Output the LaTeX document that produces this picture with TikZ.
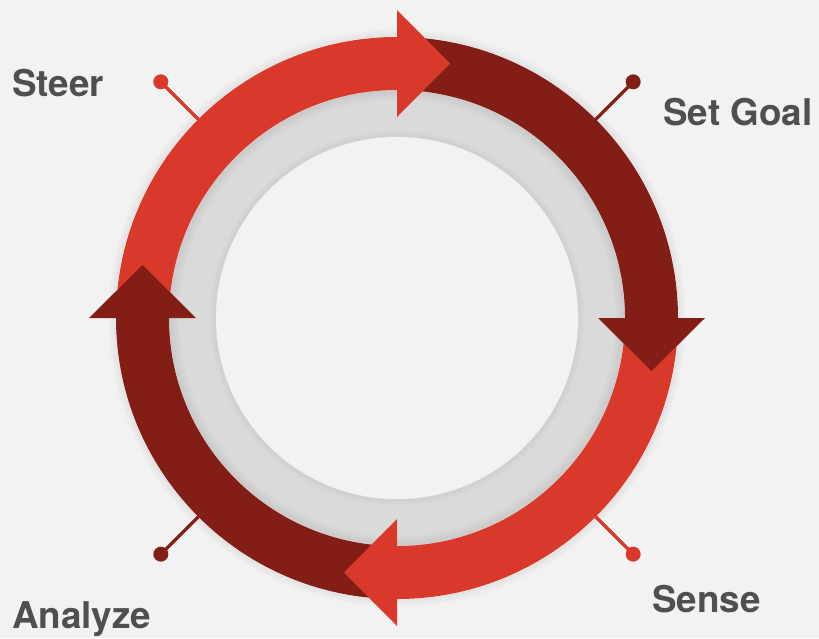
\documentclass[tikz,border=0pt]{standalone}
\usepackage{fontspec}
\setmainfont{TeX Gyre Heros}
\usetikzlibrary{calc}
\definecolor{bg}{HTML}{F2F2F2}
\definecolor{ringgray}{HTML}{DADADA}
\definecolor{brightred}{HTML}{D9392B}
\definecolor{darkred}{HTML}{831E17}
\definecolor{labelgray}{HTML}{4F4F4F}
\begin{document}
\begin{tikzpicture}[x=1pt,y=1pt,
  lbl/.style={font=\bfseries\fontsize{36.8}{40}\selectfont, text=labelgray, inner sep=0pt, anchor=base west},
  pinline/.style={line width=3.2pt},
  band/.style={line width=53pt}]
\fill[bg] (0,0) rectangle (819,-638);
\useasboundingbox (0,0) rectangle (819,-638);
\coordinate (C) at (397,-318);
% gray ring
\fill[ringgray] (C) circle[radius=240];
% outer soft shadow of ring
\foreach \i in {1,...,8}{
  \pgfmathsetmacro{\op}{0.06*(1-\i/9)}
  \draw[black, opacity=\op, line width=1pt] (C) circle[radius=281+\i];
}
% pins
\foreach \n/\a/\c in {Steer/135/brightred, Goal/45/darkred, Sense/-45/brightred, Analyze/-135/darkred}{
  \coordinate (p\n) at ($(C)+(\a:334)$);
  \coordinate (e\n) at ($(C)+(\a:272)$);
  \draw[pinline, \c] (p\n) -- (e\n);
  \fill[\c] (p\n) circle[radius=7.5];
}
% ring bodies (each starts and ends hidden under an arrow head)
\draw[band, brightred] ($(C)+(178:254.5)$) arc[start angle=178, end angle=88, radius=254.5];
\draw[band, darkred]   ($(C)+(88:254.5)$)  arc[start angle=88, end angle=-2, radius=254.5];
\draw[band, brightred] ($(C)+(-2:254.5)$)  arc[start angle=-2, end angle=-92, radius=254.5];
\draw[band, darkred]   ($(C)+(-92:254.5)$) arc[start angle=-92, end angle=-182, radius=254.5];
% inner shadow of ring onto gray
\foreach \i in {1,...,10}{
  \pgfmathsetmacro{\op}{0.07*(1-\i/11)}
  \draw[black, opacity=\op, line width=1pt] (C) circle[radius=228-\i];
}
% arrow heads
\foreach \a/\c in {90/brightred, 0/darkred, -90/brightred, 180/darkred}{
  \fill[\c] ($(C)+(\a:201)$) -- ($(C)+(\a:308)$) -- ($(C)+(\a:254.5)+(\a-90:53)$) -- cycle;
}
% inner disc with soft edge
\foreach \i in {1,...,6}{
  \pgfmathsetmacro{\op}{0.05*(1-\i/7)}
  \draw[black, opacity=\op, line width=1pt] (C) circle[radius=181+\i];
}
\fill[bg] (C) circle[radius=181];
% labels
\node[lbl] (lSteer) at (12,-96) {Steer};
\node[lbl] (lGoal) at (663,-125) {Set Goal};
\node[lbl] (lSense) at (652,-612) {Sense};
\node[lbl] (lAnalyze) at (12,-628) {Analyze};
\end{tikzpicture}
\end{document}
